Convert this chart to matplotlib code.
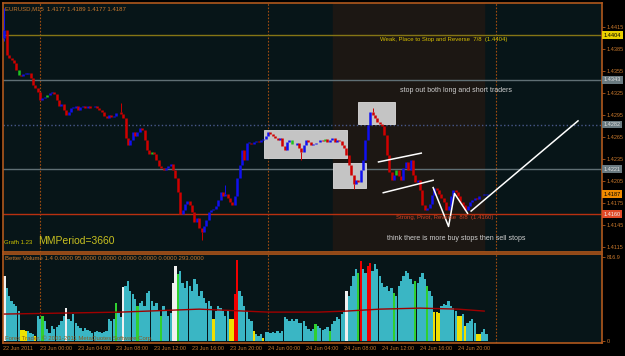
import matplotlib.pyplot as plt
import matplotlib.transforms as mtransforms
import numpy as np

# EURUSD M15, bar 1 = 22 Jun 2011 20:15
first_open = 1.4400
closes = [1.4411, 1.4377, 1.4373, 1.4370, 1.4366, 1.4356, 1.4350, 1.4348, 1.4351, 1.4352,
          1.4352, 1.4345, 1.4336, 1.4332, 1.4326, 1.4315, 1.4318, 1.4320, 1.4322, 1.4325,
          1.4326, 1.4324, 1.4315, 1.4307, 1.4310, 1.4302, 1.4295, 1.4299, 1.4305, 1.4305,
          1.4307, 1.4302, 1.4306, 1.4307, 1.4305, 1.4307, 1.4305, 1.4306, 1.4307, 1.4305,
          1.4302, 1.4299, 1.4294, 1.4291, 1.4295, 1.4292, 1.4294, 1.4298, 1.4299, 1.4296,
          1.4291, 1.4264, 1.4254, 1.4261, 1.4272, 1.4266, 1.4272, 1.4277, 1.4275, 1.4261,
          1.4247, 1.4242, 1.4245, 1.4242, 1.4234, 1.4225, 1.4223, 1.4220, 1.4223, 1.4225,
          1.4228, 1.4220, 1.4209, 1.4190, 1.4160, 1.4165, 1.4174, 1.4178, 1.4172, 1.4163,
          1.4149, 1.4155, 1.4141, 1.4135, 1.4144, 1.4152, 1.4163, 1.4165, 1.4167, 1.4171,
          1.4179, 1.4190, 1.4185, 1.4187, 1.4182, 1.4176, 1.4172, 1.4185, 1.4209, 1.4227,
          1.4247, 1.4234, 1.4257, 1.4257, 1.4255, 1.4258, 1.4260, 1.4258, 1.4261, 1.4262,
          1.4266, 1.4272, 1.4269, 1.4266, 1.4264, 1.4261, 1.4264, 1.4253, 1.4247, 1.4258,
          1.4261, 1.4255, 1.4254, 1.4257, 1.4250, 1.4245, 1.4254, 1.4261, 1.4258, 1.4254,
          1.4255, 1.4257, 1.4258, 1.4261, 1.4260, 1.4262, 1.4258, 1.4261, 1.4264, 1.4258,
          1.4261, 1.4260, 1.4254, 1.4250, 1.4240, 1.4227, 1.4213, 1.4201, 1.4206, 1.4204,
          1.4220, 1.4234, 1.4261, 1.4281, 1.4299, 1.4295, 1.4291, 1.4285, 1.4283, 1.4280,
          1.4268, 1.4240, 1.4217, 1.4206, 1.4213, 1.4220, 1.4212, 1.4206, 1.4223, 1.4231,
          1.4220, 1.4234, 1.4213, 1.4204, 1.4206, 1.4193, 1.4172, 1.4165, 1.4168, 1.4174,
          1.4186, 1.4195, 1.4193, 1.4187, 1.4182, 1.4176, 1.4165, 1.4171, 1.4185, 1.4193,
          1.4190, 1.4185, 1.4176, 1.4172, 1.4165, 1.4171, 1.4176, 1.4179, 1.4182, 1.4180,
          1.4185, 1.4186, 1.4187, 1.4187]
wick_highs = {1: 1.4441, 50: 1.4311, 94: 1.4200, 156: 1.4305}
wick_lows = {1: 1.4396, 84: 1.4125, 126: 1.4234, 148: 1.4194}
green_bars = [7, 19, 63, 122, 136, 166, 202]

volumes = [632, 516, 438, 389, 360, 341, 292, 107, 107, 97,
           97, 78, 68, 49, 243, 214, 243, 195, 117, 78,
           146, 117, 136, 156, 195, 243, 321, 214, 195, 263,
           175, 146, 126, 97, 126, 107, 97, 78, 88, 97,
           88, 78, 88, 97, 214, 195, 214, 370, 272, 234,
           525, 535, 584, 487, 457, 409, 341, 370, 389, 341,
           467, 487, 389, 341, 370, 292, 243, 341, 292, 243,
           272, 564, 730, 652, 681, 564, 516, 584, 535, 487,
           603, 555, 438, 487, 418, 370, 389, 341, 214, 292,
           341, 321, 292, 243, 292, 214, 214, 457, 788, 487,
           438, 341, 292, 214, 195, 97, 68, 49, 68, 29,
           88, 88, 78, 88, 78, 97, 78, 97, 234, 214,
           195, 214, 195, 214, 175, 175, 195, 146, 117, 97,
           117, 165, 146, 126, 107, 117, 136, 97, 165, 195,
           234, 214, 263, 282, 487, 438, 535, 632, 701, 662,
           778, 701, 662, 730, 759, 681, 749, 701, 632, 564,
           525, 535, 487, 516, 467, 438, 535, 584, 632, 681,
           662, 603, 555, 584, 564, 623, 662, 603, 535, 487,
           438, 282, 282, 272, 341, 360, 350, 389, 341, 321,
           292, 243, 243, 263, 146, 175, 195, 214, 175, 68,
           68, 88, 117, 68]
white_vol = [1, 27, 51, 72, 73, 145]
green_vol = [17, 48, 57, 67, 74, 132, 138, 150, 165, 174, 179]
red_vol = [98, 99, 151, 154, 155]
yellow_vol = [8, 9, 10, 14, 89, 96, 97, 106, 110, 182, 183, 184, 192, 193, 195, 200, 201]
ma_bars = [1, 50, 83, 112, 133, 145, 159, 176, 192, 203]
ma_values = [263, 282, 311, 282, 282, 292, 311, 321, 311, 292]

price_ticks = [1.4415, 1.4385, 1.4355, 1.4325, 1.4295, 1.4265, 1.4235,
               1.4205, 1.4175, 1.4145, 1.4115]
time_labels = ['22 Jun 2011', '23 Jun 00:00', '23 Jun 04:00', '23 Jun 08:00',
               '23 Jun 12:00', '23 Jun 16:00', '23 Jun 20:00', '24 Jun 00:00',
               '24 Jun 04:00', '24 Jun 08:00', '24 Jun 12:00', '24 Jun 16:00',
               '24 Jun 20:00']

# levels drawn on the chart: price, line colour, line style, label box colour, label text colour
levels = [(1.4404, '#857515', '-', '#e8d000', 'black'),
          (1.4343, '#5f6f74', '-', '#6a7a80', '#e0e0e0'),
          (1.4282, '#48588a', ':', '#6a7a80', '#e0e0e0'),
          (1.4221, '#5f6f74', '-', '#6a7a80', '#e0e0e0'),
          (1.4187, None, '-', '#f08a00', 'black'),
          (1.4160, '#b83010', '-', '#e04a28', '#f0f0f0')]

# grey boxes: bar from, bar to, price low, price high
boxes = [(110.3, 145.3, 1.4236, 1.4275),
         (139.4, 153.3, 1.4196, 1.4230),
         (149.9, 165.5, 1.4283, 1.4313)]
channel_top = ([158.5, 176.5], [1.4231, 1.4243])
channel_bot = ([160.5, 181.5], [1.4189, 1.4206])
zigzag = ([181.5, 188, 190.5, 196], [1.4196, 1.4143, 1.4188, 1.4161])
trend = ([197.5, 242.5], [1.4164, 1.4287])

orange = '#c8782c'
border = '#b0581c'
bg = '#071518'
plt.rcParams['font.family'] = ['Liberation Sans', 'DejaVu Sans']

fig = plt.figure(figsize=(6.25, 3.56), dpi=100, facecolor='black')
ax = fig.add_axes([3/625, 1-252/356, 599/625, 249/356])
axv = fig.add_axes([3/625, 1-343/356, 599/625, 89/356])

for a in (ax, axv):
    a.set_facecolor(bg)
    for s in a.spines.values():
        s.set_color(border)
        s.set_linewidth(1.2)
    a.set_xlim(0.4, 252.6)
    a.set_xticks([])
    a.yaxis.tick_right()
    a.tick_params(axis='y', colors=border, length=2, width=0.6, pad=1.5,
                  labelsize=4, labelcolor=orange)
    for d in (16, 112, 208):
        a.axvline(d, color='#a04c10', lw=0.8, ls=(0, (1.5, 1.5)), zorder=1)

# main pane
ax.set_ylim(1.41082, 1.44477)
ax.set_yticks(price_ticks)
ax.set_yticklabels(['%.4f' % p for p in price_ticks])
ax.axvspan(139.4, 203.0, color='#1c1713', zorder=0)

for b0, b1, p0, p1 in boxes:
    ax.add_patch(plt.Rectangle((b0, p0), b1 - b0, p1 - p0, fc='#c4c4c4',
                               ec='#dcdcdc', lw=0.6, zorder=2))

blend = mtransforms.blended_transform_factory(ax.transAxes, ax.transData)
for price, lc, ls, fc, tc in levels:
    if lc:
        ax.axhline(price, color=lc, ls=ls, lw=1.0, zorder=1.5)
    ax.text(1.003, price, '%.4f' % price, transform=blend, fontsize=4, color=tc,
            va='center', ha='left', clip_on=False, zorder=10,
            bbox=dict(boxstyle='square,pad=0.25', fc=fc, ec='none'))

bars = np.arange(1, len(closes) + 1)
opens = [first_open] + closes[:-1]
for b, o, c in zip(bars, opens, closes):
    if b in green_bars:
        col = '#20c020'
    elif c >= o:
        col = '#1010f0'
    else:
        col = '#d00000'
    lo, hi = min(o, c), max(o, c)
    if hi - lo < 0.0001:
        lo, hi = c - 0.00005, c + 0.00005
    ax.vlines(b, lo, hi, color=col, lw=1.8, zorder=3)
    if b in wick_highs:
        ax.vlines(b, hi, wick_highs[b], color=col, lw=0.7, zorder=3)
    if b in wick_lows:
        ax.vlines(b, wick_lows[b], lo, color=col, lw=0.7, zorder=3)

for xs, ys in (channel_top, channel_bot, zigzag, trend):
    ax.plot(xs, ys, color='white', lw=1.1, zorder=4)

ax.text(0.003, 0.985, 'EURUSD,M15  1.4177 1.4189 1.4177 1.4187', transform=ax.transAxes,
        fontsize=4.3, color=orange, va='top', ha='left')
ax.text(159.2, 1.4398, 'Weak, Place to Stop and Reverse  7/8  (1.4404)', fontsize=4.3,
        color='#d8c000', va='center', ha='left')
ax.text(167.6, 1.4329, 'stop out both long and short traders', fontsize=5,
        color='#d0d0d0', va='center', ha='left')
ax.text(166, 1.4155, 'Strong, Pivot, Reverse  8/8  (1.4160)', fontsize=4.3,
        color='#d04020', va='center', ha='left', zorder=5)
ax.text(162, 1.4127, 'think there is more buy stops then sell stops', fontsize=5,
        color='#d0d0d0', va='center', ha='left')
ax.text(0.002, 0.04, 'Grafh 1.23', transform=ax.transAxes, fontsize=4.3,
        color='#c8c000', va='center', ha='left')
ax.text(0.058, 0.045, 'MMPeriod=3660', transform=ax.transAxes, fontsize=7.5,
        color='#c8c020', va='center', ha='left')

# volume pane
axv.set_ylim(-20, 850)
axv.set_yticks([816.9, 0])
axv.set_yticklabels(['816.9', '0'])
vcols = []
for b in bars:
    if b in white_vol:
        vcols.append('#f0f0f0')
    elif b in green_vol:
        vcols.append('#30d030')
    elif b in red_vol:
        vcols.append('#f00000')
    elif b in yellow_vol:
        vcols.append('#f0e000')
    else:
        vcols.append('#3ab6c4')
axv.bar(bars, volumes, width=0.95, color=vcols, lw=0, zorder=2)
axv.plot(ma_bars, ma_values, color='#a00000', lw=1.0, zorder=3)
axv.text(0.003, 0.955, 'Better Volume 1.4 0.0000 95.0000 0.0000 0.0000 0.0000 0.0000 293.0000',
         transform=axv.transAxes, fontsize=4.3, color=orange, va='center', ha='left')
axv.text(0.003, 0.05, 'Forex Trader, \u00a9 2001-2011 MetaQuotes Software Corp.',
         transform=axv.transAxes, fontsize=4.3, color='#8a5a20', va='center', ha='left', zorder=4)

# time axis
for i, lab in enumerate(time_labels):
    xpx = 2 + i * 16 * 2.375
    fig.text(max(xpx, 3) / 625, 1 - 349 / 356, lab, fontsize=4, color=orange,
             va='center', ha='left')

fig.savefig('out.png', dpi=100, facecolor='black')
